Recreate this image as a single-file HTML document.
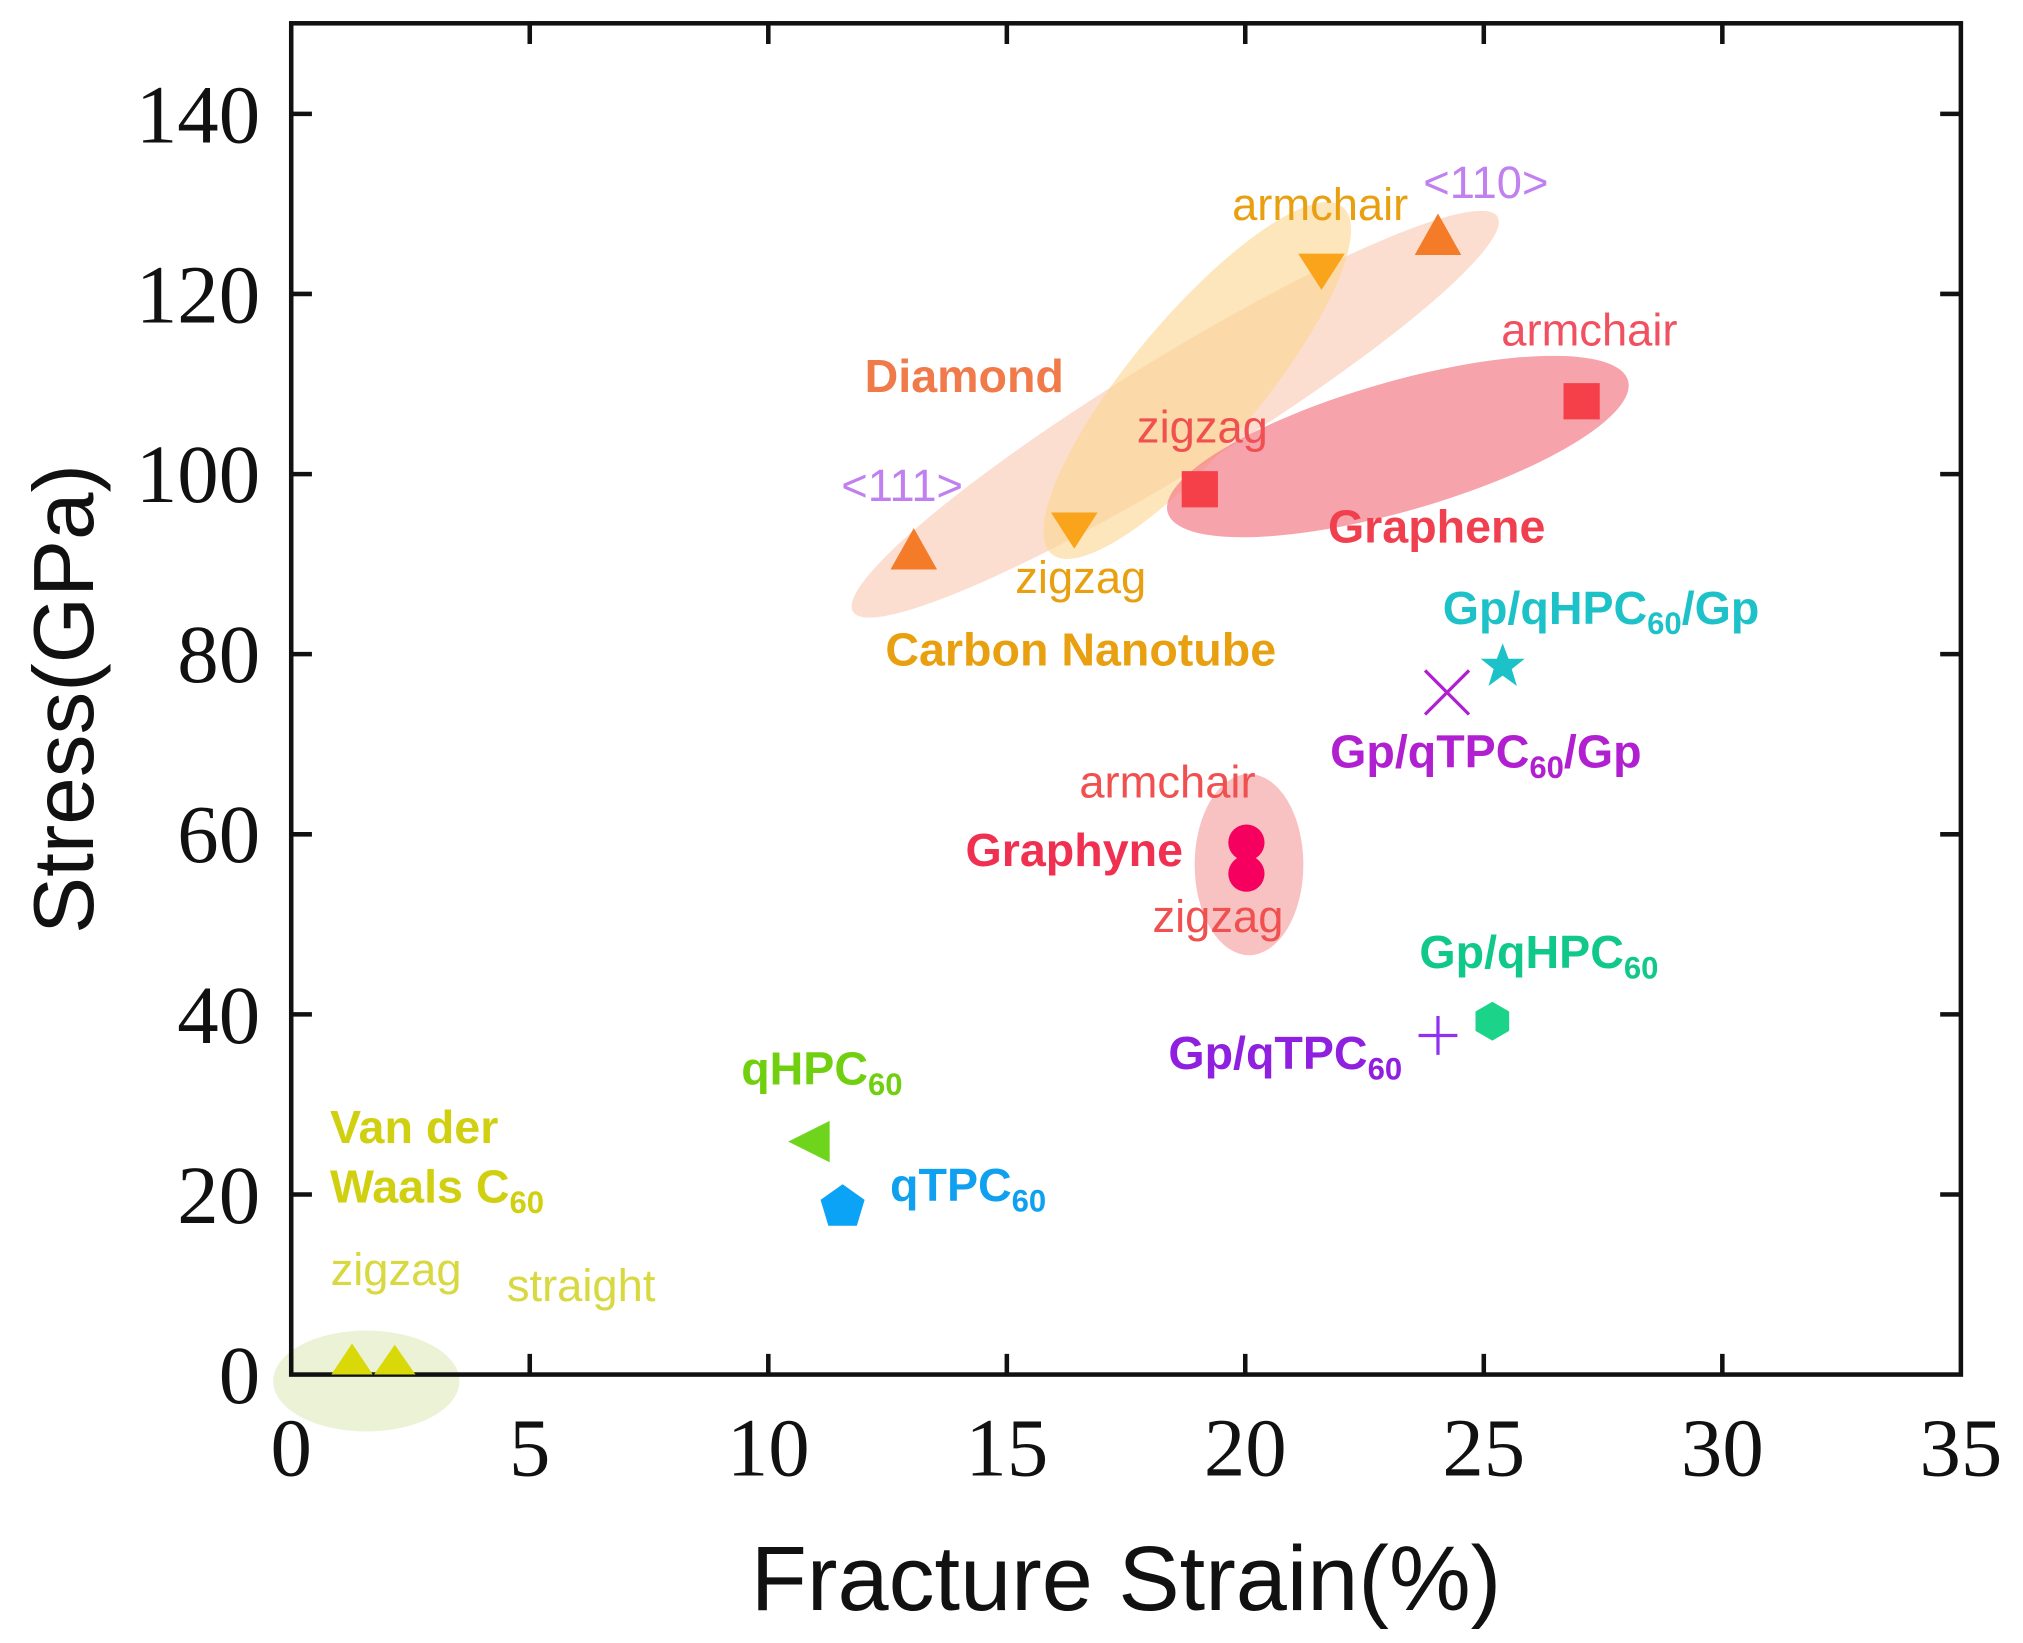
<!DOCTYPE html>
<html><head><meta charset="utf-8"><style>
html,body{margin:0;padding:0;background:#fff;width:2023px;height:1643px;overflow:hidden}
svg{display:block}
.tk{font-family:"Liberation Serif",serif;font-size:64px;fill:#111}
.t{font-family:"Liberation Sans",sans-serif;font-size:35px}
.b{font-family:"Liberation Sans",sans-serif;font-size:36px;font-weight:bold}
.s{font-size:24px}
</style></head><body>
<svg width="2023" height="1643" viewBox="0 0 1563 1269.4" preserveAspectRatio="none" xmlns="http://www.w3.org/2000/svg">
<ellipse cx="908" cy="320" rx="292" ry="44" transform="rotate(-31.5 908 320)" fill="#f9c8b0" opacity="0.6"/>
<ellipse cx="925" cy="294" rx="175" ry="50" transform="rotate(-50 925 294)" fill="#fbd690" opacity="0.6"/>
<ellipse cx="1080" cy="345" rx="185" ry="50" transform="rotate(-16 1080 345)" fill="#f47c88" opacity="0.7"/>
<ellipse cx="965" cy="668" rx="42" ry="70" fill="#f6a8a8" opacity="0.7"/>
<ellipse cx="283" cy="1067" rx="72" ry="39" fill="#e6efcc" opacity="0.8"/>
<rect x="225" y="18" width="1290" height="1044" fill="none" stroke="#111" stroke-width="3.5"/>
<g stroke="#111" stroke-width="3.5">
<path d="M409.3 1062v-16M593.6 1062v-16M777.9 1062v-16M962.1 1062v-16M1146.4 1062v-16M1330.7 1062v-16"/>
<path d="M409.3 18v16M593.6 18v16M777.9 18v16M962.1 18v16M1146.4 18v16M1330.7 18v16"/>
<path d="M225 922.9h16M225 783.7h16M225 644.6h16M225 505.4h16M225 366.3h16M225 227.1h16M225 88h16"/>
<path d="M1515 922.9h-16M1515 783.7h-16M1515 644.6h-16M1515 505.4h-16M1515 366.3h-16M1515 227.1h-16M1515 88h-16"/>
</g>
<g class="tk" text-anchor="end">
<text x="201" y="1084">0</text><text x="201" y="945">20</text><text x="201" y="806">40</text><text x="201" y="666">60</text><text x="201" y="527">80</text><text x="201" y="388">100</text><text x="201" y="249">120</text><text x="201" y="110">140</text>
</g>
<g class="tk" text-anchor="middle">
<text x="225" y="1140">0</text><text x="409.3" y="1140">5</text><text x="593.6" y="1140">10</text><text x="777.9" y="1140">15</text><text x="962.1" y="1140">20</text><text x="1146.4" y="1140">25</text><text x="1330.7" y="1140">30</text><text x="1515" y="1140">35</text>
</g>
<text x="870" y="1244" text-anchor="middle" font-family="Liberation Sans,sans-serif" font-size="71" fill="#111">Fracture Strain(%)</text>
<text transform="translate(72 540) rotate(-90)" text-anchor="middle" font-family="Liberation Sans,sans-serif" font-size="66" fill="#111">Stress(GPa)</text>
<polygon points="706,408 688,440 724,440" fill="#f47b28"/>
<polygon points="1111,165 1093,197 1129,197" fill="#f47b28"/>
<polygon points="812,396 848,396 830,424" fill="#f9a41a"/>
<polygon points="1003,196 1039,196 1021,224" fill="#f9a41a"/>
<rect x="913" y="364" width="28" height="28" fill="#f5404a"/>
<rect x="1208" y="296" width="28" height="28" fill="#f5404a"/>
<circle cx="963" cy="651" r="14" fill="#f5005e"/><circle cx="963" cy="675" r="14" fill="#f5005e"/>
<polygon points="1161,497 1165.5,509 1178,509 1168,517 1172,530 1161,522 1150,530 1154,517 1144,509 1156.5,509" fill="#1dc2c8"/>
<path d="M1101 518L1135 552M1135 518L1101 552" stroke="#b020d0" stroke-width="2.5"/>
<polygon points="1153,774 1166,781.5 1166,796.5 1153,804 1140,796.5 1140,781.5" fill="#1cd38a"/>
<path d="M1096 800h30M1111 785v30" stroke="#9030f0" stroke-width="2.5"/>
<polygon points="609,882 641,866 641,898" fill="#6fd41c"/>
<polygon points="651,915 668,927 662,947 640,947 634,927" fill="#0aa3f5"/>
<polygon points="272,1038 256,1062 288,1062" fill="#d9d90a"/>
<polygon points="305,1039 289,1062 321,1062" fill="#d9d90a"/>
<g class="t" text-anchor="middle">
<text x="1020" y="170" fill="#e8a010">armchair</text>
<text x="1148" y="153" fill="#c080f0">&lt;110&gt;</text>
<text x="1228" y="267" fill="#f05060">armchair</text>
<text x="929" y="342" fill="#f05050">zigzag</text>
<text x="697" y="387" fill="#c080f0">&lt;111&gt;</text>
<text x="835" y="458" fill="#e8a010">zigzag</text>
<text x="902" y="616" fill="#f05050">armchair</text>
<text x="941" y="720" fill="#f05050">zigzag</text>
<text x="306" y="993" fill="#d8d840">zigzag</text>
<text x="449" y="1005" fill="#d8d840">straight</text>
</g>
<g class="b" text-anchor="middle">
<text x="745" y="303" fill="#f07a4a">Diamond</text>
<text x="1110" y="419" fill="#f04050">Graphene</text>
<text x="835" y="514" fill="#e8a010">Carbon Nanotube</text>
<text x="1237" y="482" fill="#1dc2c8">Gp/qHPC<tspan class="s" dy="8">60</tspan><tspan dy="-8">/Gp</tspan></text>
<text x="1148" y="593" fill="#b020d0">Gp/qTPC<tspan class="s" dy="8">60</tspan><tspan dy="-8">/Gp</tspan></text>
<text x="830" y="669" fill="#f03050">Graphyne</text>
<text x="1189" y="748" fill="#10c88a">Gp/qHPC<tspan class="s" dy="8">60</tspan></text>
<text x="993" y="826" fill="#9020e0">Gp/qTPC<tspan class="s" dy="8">60</tspan></text>
<text x="635" y="838" fill="#70d010">qHPC<tspan class="s" dy="8">60</tspan></text>
<text x="748" y="928" fill="#10a0f0">qTPC<tspan class="s" dy="8">60</tspan></text>
</g>
<g class="b" fill="#d0d010">
<text x="255" y="883">Van der</text>
<text x="255" y="929">Waals C<tspan class="s" dy="8">60</tspan></text>
</g>
</svg>
</body></html>
